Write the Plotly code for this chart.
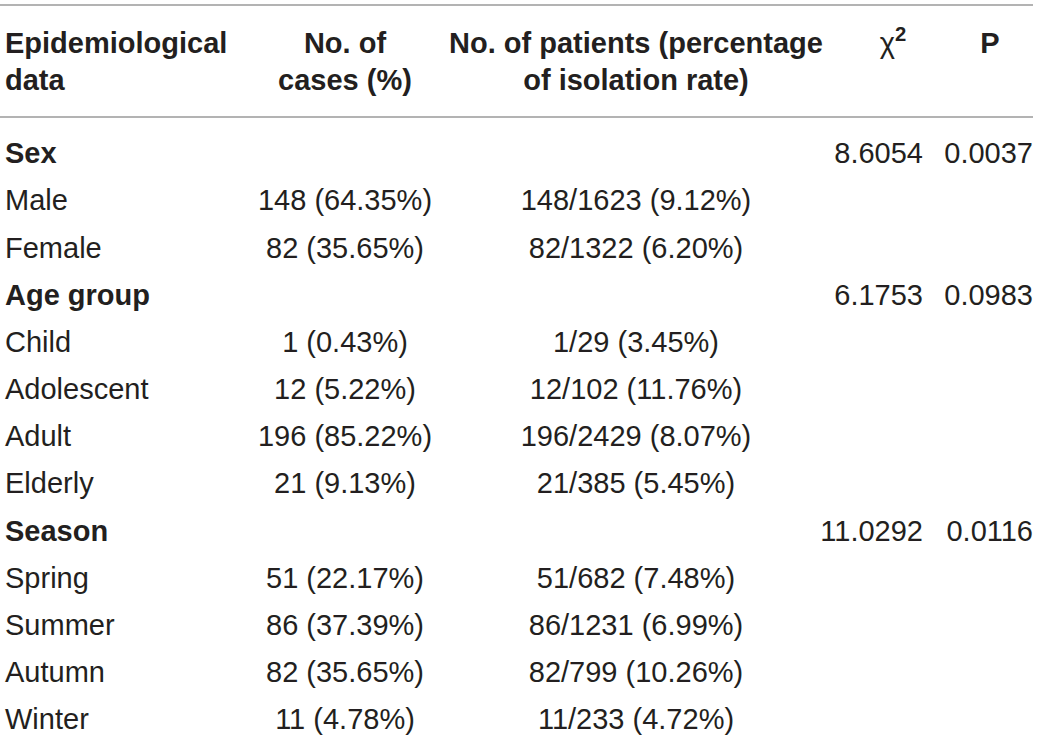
import plotly.graph_objects as go

# Data
variables = ['Sex', 'Male', 'Female', 'Age group', 'Child', 'Adolescent', 'Adult', 'Elderly',
             'Season', 'Spring', 'Summer', 'Autumn', 'Winter']
is_group = [True, False, False, True, False, False, False, False, True, False, False, False, False]
cases = [None, 148, 82, None, 1, 12, 196, 21, None, 51, 86, 82, 11]
cases_pct = [None, 64.35, 35.65, None, 0.43, 5.22, 85.22, 9.13, None, 22.17, 37.39, 35.65, 4.78]
patients_total = [None, 1623, 1322, None, 29, 102, 2429, 385, None, 682, 1231, 799, 233]
isolation_pct = [None, 9.12, 6.20, None, 3.45, 11.76, 8.07, 5.45, None, 7.48, 6.99, 10.26, 4.72]
chi2 = ['8.6054', '', '', '6.1753', '', '', '', '', '11.0292', '', '', '', '']
p_values = ['0.0037', '', '', '0.0983', '', '', '', '', '0.0116', '', '', '', '']

header_line1 = ['<b>Epidemiological</b>', '<b>No. of</b>', '<b>No. of patients (percentage</b>',
                'χ<sup><b>2</b></sup>', '<b>P</b>']
header_line2 = ['<b>data</b>', '<b>cases (%)</b>', '<b>of isolation rate)</b>', '', '']

rows = list(range(len(variables)))
FONT = 'Liberation Sans'
INK = '#231f20'
SIZE = 29

col1 = ['<b>%s</b>' % v if g else v for v, g in zip(variables, is_group)]
col2 = ['' if c is None else '%d (%.2f%%)' % (c, p) for c, p in zip(cases, cases_pct)]
col3 = ['' if c is None else '%d/%d (%.2f%%)' % (c, t, p)
        for c, t, p in zip(cases, patients_total, isolation_pct)]

fig = go.Figure()

def add_col(x, texts, ys, pos):
    keep = [(t, y) for t, y in zip(texts, ys) if t]
    if not keep:
        return
    fig.add_trace(go.Scatter(
        x=[x] * len(keep), y=[k[1] for k in keep], text=[k[0] for k in keep],
        mode='text', textposition=pos,
        textfont=dict(family=FONT, size=SIZE, color=INK), hoverinfo='skip', showlegend=False))

add_col(5, col1, rows, 'middle right')
add_col(345, col2, rows, 'middle center')
add_col(636, col3, rows, 'middle center')
add_col(923, chi2, rows, 'middle left')
add_col(1033, p_values, rows, 'middle left')

# header (two text rows)
hx = [5, 345, 636, 893, 990]
hpos = ['middle right', 'middle center', 'middle center', 'middle center', 'middle center']
for i in range(5):
    add_col(hx[i], [header_line1[i]], [-2.332], hpos[i])
    add_col(hx[i], [header_line2[i]], [-1.548], hpos[i])

for yl in (-3.202, -0.827):
    fig.add_shape(type='line', xref='x', yref='y', x0=0, x1=1033, y0=yl, y1=yl,
                  line=dict(color='#9a9a9a', width=1.5))

fig.update_layout(
    width=1040, height=741,
    margin=dict(l=0, r=0, t=0, b=0),
    paper_bgcolor='white', plot_bgcolor='white',
    xaxis=dict(range=[0, 1040], visible=False, fixedrange=True),
    yaxis=dict(range=[12.402, -3.308], visible=False, fixedrange=True),
)

fig.write_html("out.html", config={'displayModeBar': False},
               post_script="document.body.style.margin='0';document.body.style.overflow='hidden';")
